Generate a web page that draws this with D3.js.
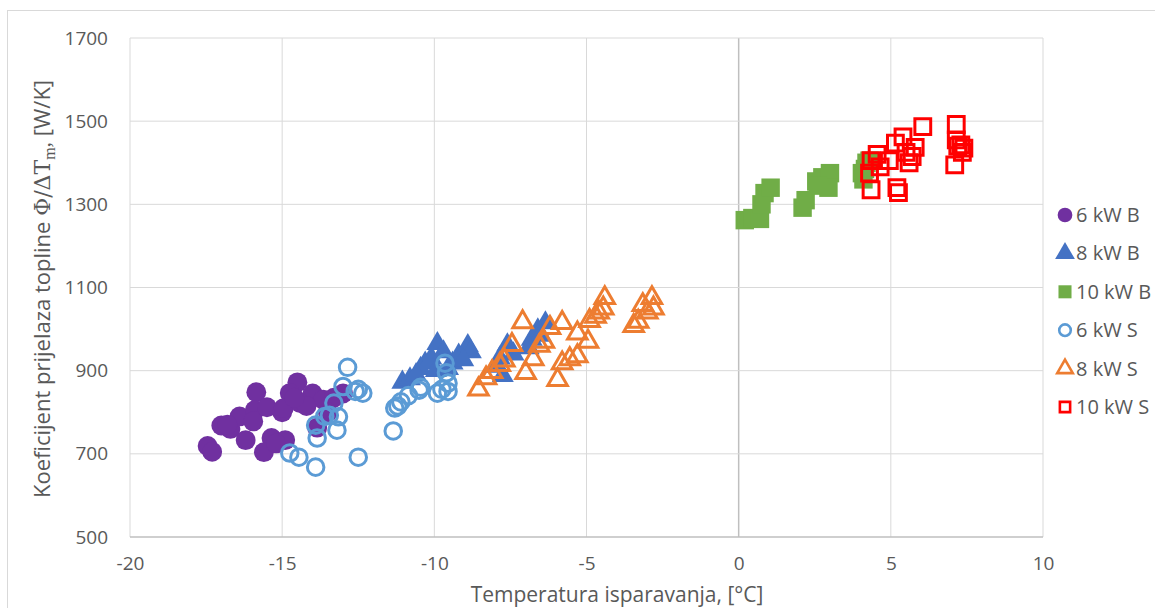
<!DOCTYPE html>
<html>
<head>
<meta charset="utf-8">
<script src="https://cdn.jsdelivr.net/npm/d3@7"></script>
<style>
  body { margin: 0; background: #fff; }
  text { font-family: "Open Sans", "Liberation Sans", sans-serif; fill: #595959; }
</style>
</head>
<body>
<div id="chart"></div>
<script>
// values: [temperature °C, W/K]
var kw6B = [[-17.45,719],[-17.3,705],[-17.0,768],[-16.7,760],[-16.4,790],[-16.2,733],[-15.85,848],[-15.9,805],
  [-15.95,778],[-15.5,812],[-15.35,738],[-15.6,704],[-15.0,800],[-14.5,872],[-14.75,846],[-14.0,845],[-14.95,810],
  [-14.4,822],[-13.65,830],[-13.0,845],[-14.9,733],[-13.85,763],[-14.2,815],[-13.3,835],[-14.6,835],[-13.5,800],
  [-16.8,770],[-15.2,725]];
var kw8B = [[-11.05,872],[-10.8,880],[-10.45,905],[-10.3,918],[-10.1,930],[-9.9,965],[-9.7,945],[-9.4,918],
  [-9.2,937],[-8.9,960],[-8.8,945],[-9.55,905],[-10.6,890],[-9.05,926],[-7.85,930],[-7.75,888],[-7.6,962],
  [-7.95,910],[-7.4,940],[-6.8,975],[-6.6,998],[-6.35,1015],[-6.5,985],[-6.9,955],[-9.95,900]];
var kw10B = [[0.2,1262],[0.45,1267],[0.7,1265],[0.75,1300],[0.85,1327],[1.05,1340],[2.1,1292],[2.2,1310],
  [2.55,1355],[2.75,1365],[3.0,1375],[2.95,1340],[2.6,1345],[4.1,1360],[4.15,1385],[4.2,1400],[4.3,1405],[4.05,1375]];
var kw6S = [[-12.85,908],[-13.0,862],[-12.5,855],[-12.35,846],[-13.3,822],[-13.45,793],[-13.15,789],[-13.9,769],
  [-13.85,738],[-13.2,757],[-14.75,702],[-14.45,692],[-13.9,668],[-12.5,692],[-11.3,810],[-11.35,755],[-11.1,825],
  [-10.85,840],[-10.5,853],[-10.45,860],[-9.9,846],[-9.65,918],[-9.6,895],[-9.55,870],[-9.55,850],[-9.75,855],
  [-12.6,850],[-13.6,790],[-11.2,815]];
var kw8S = [[-8.55,855],[-8.3,882],[-8.1,897],[-7.85,914],[-7.7,925],[-7.45,962],[-7.1,1017],[-7.0,895],
  [-6.75,928],[-6.55,960],[-6.4,970],[-6.2,1003],[-5.8,1015],[-5.95,878],[-5.8,918],[-5.55,928],[-5.3,935],
  [-5.3,990],[-4.95,970],[-4.9,1020],[-4.7,1030],[-4.45,1050],[-4.4,1075],[-3.45,1008],[-3.3,1018],[-3.15,1058],
  [-2.8,1050],[-2.85,1075],[-3.0,1040],[-4.6,1040]];
var kw10S = [[4.35,1335],[4.3,1375],[4.35,1405],[4.55,1420],[4.95,1405],[5.2,1340],[5.25,1328],[5.4,1462],
  [5.15,1447],[5.6,1400],[5.7,1415],[5.8,1437],[6.05,1487],[7.15,1492],[7.1,1395],[7.2,1440],[7.3,1443],
  [7.35,1425],[7.4,1435],[4.65,1390],[5.5,1425],[7.15,1455]];

var xTicks = [-20, -15, -10, -5, 0, 5, 10];
var yTicks = [500, 700, 900, 1100, 1300, 1500, 1700];
var seriesNames = ["6 kW B", "8 kW B", "10 kW B", "6 kW S", "8 kW S", "10 kW S"];

var series = [
  {name: seriesNames[0], data: kw6B, shape: "circle", color: "#7030A0", filled: true},
  {name: seriesNames[1], data: kw8B, shape: "triangle", color: "#4472C4", filled: true},
  {name: seriesNames[2], data: kw10B, shape: "square", color: "#70AD47", filled: true},
  {name: seriesNames[3], data: kw6S, shape: "circle", color: "#5B9BD5", filled: false},
  {name: seriesNames[4], data: kw8S, shape: "triangle", color: "#ED7D31", filled: false},
  {name: seriesNames[5], data: kw10S, shape: "square", color: "#FF0000", filled: false}
];

var width = 1155, height = 608;
var plot = {left: 130, right: 1043, top: 38, bottom: 537};

var svg = d3.select("#chart").append("svg")
    .attr("width", width)
    .attr("height", height);

// chart area border
svg.append("rect")
    .attr("x", 7.5).attr("y", 10.5)
    .attr("width", 1160).attr("height", 610)
    .attr("fill", "none")
    .attr("stroke", "#d9d9d9");

var x = d3.scaleLinear().domain([-20, 10]).range([plot.left, plot.right]);
var y = d3.scaleLinear().domain([500, 1700]).range([plot.bottom, plot.top]);

// gridlines
var grid = svg.append("g").attr("class", "grid");
grid.selectAll(".vgrid").data(xTicks).enter().append("line")
    .attr("x1", function(d) { return x(d); }).attr("x2", function(d) { return x(d); })
    .attr("y1", plot.top).attr("y2", plot.bottom)
    .attr("stroke", function(d) { return d === 0 ? "#bfbfbf" : "#d9d9d9"; })
    .attr("stroke-width", function(d) { return d === 0 ? 1.5 : 1; });
grid.selectAll(".hgrid").data(yTicks).enter().append("line")
    .attr("x1", plot.left).attr("x2", plot.right)
    .attr("y1", function(d) { return y(d); }).attr("y2", function(d) { return y(d); })
    .attr("stroke", function(d) { return d === 500 ? "#bfbfbf" : "#d9d9d9"; })
    .attr("stroke-width", function(d) { return d === 500 ? 1.5 : 1; });

// axes (labels only)
var plain = function(d) { return String(d); };
var xAxis = d3.axisBottom(x).tickValues(xTicks).tickSize(0).tickPadding(20).tickFormat(plain);
var yAxis = d3.axisLeft(y).tickValues(yTicks).tickSize(0).tickPadding(22).tickFormat(plain);

var gx = svg.append("g")
    .attr("transform", "translate(0," + plot.bottom + ")")
    .call(xAxis);
var gy = svg.append("g")
    .attr("transform", "translate(" + plot.left + ",0)")
    .call(yAxis);
[gx, gy].forEach(function(g) {
  g.select(".domain").remove();
  g.selectAll("text").attr("font-size", 19).attr("fill", "#595959")
    .attr("font-family", "'Open Sans', sans-serif");
});

// axis titles
svg.append("text")
    .attr("x", 617)
    .attr("y", 602)
    .attr("text-anchor", "middle")
    .attr("font-size", 21)
    .text("Temperatura isparavanja, [°C]");

var yt = svg.append("text")
    .attr("transform", "translate(50," + 289 + ") rotate(-90)")
    .attr("text-anchor", "middle")
    .attr("font-size", 22);
yt.append("tspan").text("Koeficijent prijelaza topline ");
yt.append("tspan").attr("font-family", "'DejaVu Serif', 'Liberation Serif', serif").text("Φ/ΔT");
yt.append("tspan").attr("font-family", "'Liberation Serif', serif").attr("font-size", 16).attr("dy", 5).text("m");
yt.append("tspan").attr("font-family", "'Liberation Serif', serif").attr("dy", -5).text(",");
yt.append("tspan").text(" [W/K]");

// marker symbols
function symbolFor(shape, size) {
  var type = shape === "circle" ? d3.symbolCircle : shape === "triangle" ? d3.symbolTriangle : d3.symbolSquare;
  return d3.symbol().type(type).size(size)();
}
var markerSize = {circle: 310, triangle: 210, square: 340};
var openSize = {circle: 215, triangle: 165, square: 250};

var points = svg.append("g").attr("class", "points");
series.forEach(function(s) {
  points.append("g").selectAll("path")
    .data(s.data)
    .enter().append("path")
    .attr("d", symbolFor(s.shape, s.filled ? markerSize[s.shape] : openSize[s.shape]))
    .attr("transform", function(d) { return "translate(" + x(d[0]) + "," + y(d[1]) + ")"; })
    .attr("fill", s.filled ? s.color : "none")
    .attr("stroke", s.color)
    .attr("stroke-width", s.filled ? 0 : 3);
});

// legend
var legend = svg.append("g").attr("transform", "translate(1065,215)");
var items = legend.selectAll("g").data(series).enter().append("g")
    .attr("transform", function(d, i) { return "translate(0," + (i * 38.4) + ")"; });
items.append("path")
    .attr("d", function(d) { return symbolFor(d.shape, d.filled ? 170 : 105); })
    .attr("fill", function(d) { return d.filled ? d.color : "none"; })
    .attr("stroke", function(d) { return d.color; })
    .attr("stroke-width", function(d) { return d.filled ? 0 : 2.6; });
items.append("text")
    .attr("x", 11)
    .attr("y", 7)
    .attr("font-size", 20)
    .text(function(d) { return d.name; });
</script>
</body>
</html>
